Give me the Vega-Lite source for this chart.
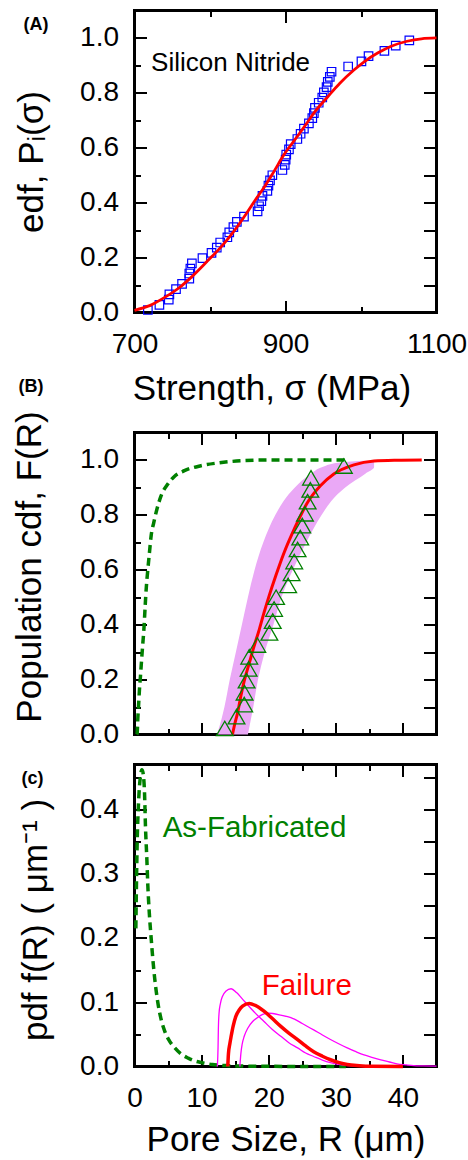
{
"$schema":"https://vega.github.io/schema/vega-lite/v6.json",
"padding":{"left":10.5,"top":7.5,"right":0,"bottom":0},
"config":{
 "view":{"stroke":"black","strokeWidth":3},
 "font":"Liberation Sans",
 "axis":{"grid":false,"domain":false,"labelFont":"Liberation Sans","titleFont":"Liberation Sans","labelFontSize":28,"titleFontSize":35,"titleFontWeight":"normal","labelColor":"black","titleColor":"black","tickColor":"black","tickWidth":2,"labelFlush":false,"labelOverlap":false,"labelBound":false}
},
"datasets":{
 "a_pts":[{"s":717.7,"p":0.009},{"s":733,"p":0.028},{"s":745.4,"p":0.047},{"s":746.2,"p":0.066},{"s":755,"p":0.085},{"s":763,"p":0.104},{"s":772.6,"p":0.123},{"s":772.6,"p":0.142},{"s":774,"p":0.16},{"s":776,"p":0.179},{"s":790,"p":0.198},{"s":802,"p":0.217},{"s":809,"p":0.236},{"s":813.5,"p":0.255},{"s":823,"p":0.274},{"s":825.5,"p":0.292},{"s":831,"p":0.311},{"s":835.6,"p":0.33},{"s":845,"p":0.349},{"s":863,"p":0.368},{"s":865,"p":0.387},{"s":868,"p":0.406},{"s":869.5,"p":0.425},{"s":876,"p":0.443},{"s":877.4,"p":0.462},{"s":879.5,"p":0.481},{"s":882.6,"p":0.5},{"s":895.9,"p":0.519},{"s":899,"p":0.538},{"s":900.2,"p":0.557},{"s":901,"p":0.575},{"s":904.6,"p":0.594},{"s":906.9,"p":0.613},{"s":915.7,"p":0.632},{"s":920,"p":0.651},{"s":924.4,"p":0.67},{"s":931,"p":0.689},{"s":935.5,"p":0.708},{"s":937.6,"p":0.726},{"s":939,"p":0.745},{"s":944,"p":0.764},{"s":948.7,"p":0.783},{"s":950.8,"p":0.802},{"s":954.4,"p":0.821},{"s":956,"p":0.84},{"s":958.7,"p":0.858},{"s":961,"p":0.877},{"s":983,"p":0.896},{"s":1000.6,"p":0.915},{"s":1010,"p":0.934},{"s":1031,"p":0.953},{"s":1046,"p":0.972},{"s":1064,"p":0.991}],
 "a_fit":[{"s":700,"p":0.008},{"s":720,"p":0.025},{"s":740,"p":0.055},{"s":760,"p":0.092},{"s":775,"p":0.128},{"s":795,"p":0.183},{"s":815,"p":0.24},{"s":830,"p":0.29},{"s":848,"p":0.36},{"s":860,"p":0.41},{"s":872,"p":0.457},{"s":885,"p":0.515},{"s":898,"p":0.575},{"s":912,"p":0.628},{"s":925,"p":0.677},{"s":940,"p":0.735},{"s":956,"p":0.786},{"s":972,"p":0.835},{"s":991,"p":0.884},{"s":1005,"p":0.915},{"s":1022,"p":0.945},{"s":1040,"p":0.97},{"s":1061,"p":0.988},{"s":1080,"p":0.997},{"s":1100,"p":1.0}],
 "a_lbl":[{"s":722,"p":0.878,"t":"Silicon Nitride"}],
 "a_tag":[{"s":553,"p":1.028,"t":"(A)"}],
 "b_tag":[{"R":-17.3,"F":1.2457,"t":"(B)"}],
 "c_tag":[{"R":-16.84,"f":0.4389,"t":"(c)"}],
 "b_band":[{"F":0,"lo":12.3,"hi":16.9},{"F":0.05,"lo":12.9,"hi":17.3},{"F":0.1,"lo":13.4,"hi":17.7},{"F":0.2,"lo":14.2,"hi":18.4},{"F":0.3,"lo":15.1,"hi":19.4},{"F":0.4,"lo":16.0,"hi":20.7},{"F":0.5,"lo":16.9,"hi":21.9},{"F":0.6,"lo":17.9,"hi":23.6},{"F":0.7,"lo":19.2,"hi":25.6},{"F":0.8,"lo":21.0,"hi":27.9},{"F":0.85,"lo":22.2,"hi":29.3},{"F":0.9,"lo":23.9,"hi":31.4},{"F":0.95,"lo":26.3,"hi":34.4},{"F":0.973,"lo":27.9,"hi":35.7},{"F":0.99,"lo":30.3,"hi":35.7},{"F":0.997,"lo":34.0,"hi":35.7}],
 "b_fab":[{"R":0.35,"F":0},{"R":0.4,"F":0.006},{"R":0.5,"F":0.061},{"R":0.6,"F":0.103},{"R":0.74,"F":0.164},{"R":0.89,"F":0.213},{"R":1.1,"F":0.286},{"R":1.25,"F":0.335},{"R":1.4,"F":0.383},{"R":1.59,"F":0.468},{"R":1.74,"F":0.529},{"R":1.99,"F":0.602},{"R":2.23,"F":0.663},{"R":2.48,"F":0.724},{"R":2.88,"F":0.773},{"R":3.22,"F":0.809},{"R":3.97,"F":0.87},{"R":4.96,"F":0.912},{"R":5.94,"F":0.94},{"R":7.43,"F":0.961},{"R":9.9,"F":0.979},{"R":12.4,"F":0.989},{"R":15.85,"F":0.997},{"R":19.8,"F":1.0},{"R":31.7,"F":1.0}],
 "b_fail":[{"R":14.6,"F":0},{"R":14.86,"F":0.03},{"R":15.36,"F":0.079},{"R":15.85,"F":0.14},{"R":16.35,"F":0.195},{"R":17.1,"F":0.26},{"R":17.8,"F":0.32},{"R":18.6,"F":0.383},{"R":19.3,"F":0.444},{"R":20.06,"F":0.505},{"R":21.05,"F":0.578},{"R":22.3,"F":0.663},{"R":23.8,"F":0.748},{"R":25.8,"F":0.846},{"R":27.7,"F":0.906},{"R":29.7,"F":0.949},{"R":32.7,"F":0.982},{"R":35.7,"F":0.996},{"R":39,"F":0.999},{"R":42.8,"F":1.0}],
 "b_tri":[{"R":13.45,"F":0.022},{"R":15.2,"F":0.065},{"R":16.35,"F":0.109},{"R":16.4,"F":0.152},{"R":16.7,"F":0.196},{"R":17.0,"F":0.239},{"R":17.1,"F":0.283},{"R":18.3,"F":0.326},{"R":20.1,"F":0.37},{"R":20.6,"F":0.413},{"R":20.8,"F":0.457},{"R":21.1,"F":0.5},{"R":22.9,"F":0.543},{"R":23.4,"F":0.587},{"R":23.8,"F":0.63},{"R":24.3,"F":0.674},{"R":24.7,"F":0.717},{"R":25.0,"F":0.761},{"R":25.4,"F":0.804},{"R":25.8,"F":0.848},{"R":26.2,"F":0.891},{"R":26.3,"F":0.935},{"R":31.2,"F":0.978}],
 "c_fab":[{"R":0.2,"f":0.215},{"R":0.4,"f":0.349},{"R":0.6,"f":0.41},{"R":0.9,"f":0.453},{"R":1.1,"f":0.462},{"R":1.25,"f":0.458},{"R":1.49,"f":0.427},{"R":1.63,"f":0.375},{"R":1.84,"f":0.323},{"R":1.99,"f":0.281},{"R":2.23,"f":0.235},{"R":2.48,"f":0.2},{"R":2.75,"f":0.165},{"R":3.0,"f":0.138},{"R":3.47,"f":0.1},{"R":4.0,"f":0.072},{"R":4.5,"f":0.055},{"R":5.2,"f":0.04},{"R":6.0,"f":0.029},{"R":7.0,"f":0.019},{"R":8.0,"f":0.013},{"R":9.0,"f":0.0085},{"R":10,"f":0.006},{"R":11.6,"f":0.003},{"R":14,"f":0.0013},{"R":18,"f":0.0004},{"R":24,"f":0.0001},{"R":31.5,"f":0}],
 "c_fail":[{"R":13.9,"f":0},{"R":14.0,"f":0.02},{"R":14.2,"f":0.035},{"R":14.4,"f":0.047},{"R":14.7,"f":0.063},{"R":15.1,"f":0.078},{"R":15.6,"f":0.088},{"R":16.1,"f":0.094},{"R":17.1,"f":0.098},{"R":18.0,"f":0.095},{"R":19.3,"f":0.086},{"R":20.5,"f":0.075},{"R":21.8,"f":0.0625},{"R":23,"f":0.052},{"R":24.3,"f":0.042},{"R":25.5,"f":0.032},{"R":26.7,"f":0.023},{"R":28,"f":0.016},{"R":29.2,"f":0.0105},{"R":30.5,"f":0.006},{"R":31.7,"f":0.003},{"R":33.5,"f":0.0012},{"R":35.2,"f":0.0003},{"R":40,"f":0}],
 "c_bounds":[{"k":"lo","R":12.35,"f":0.0},{"k":"lo","R":12.45,"f":0.03},{"k":"lo","R":12.5,"f":0.06},{"k":"lo","R":12.6,"f":0.083},{"k":"lo","R":12.8,"f":0.098},{"k":"lo","R":13.1,"f":0.109},{"k":"lo","R":13.6,"f":0.117},{"k":"lo","R":14.4,"f":0.121},{"k":"lo","R":15.2,"f":0.115},{"k":"lo","R":16.0,"f":0.106},{"k":"lo","R":16.85,"f":0.096},{"k":"lo","R":18,"f":0.083},{"k":"lo","R":19.3,"f":0.07},{"k":"lo","R":20.5,"f":0.058},{"k":"lo","R":21.8,"f":0.047},{"k":"lo","R":23,"f":0.037},{"k":"lo","R":24.3,"f":0.029},{"k":"lo","R":25.5,"f":0.021},{"k":"lo","R":26.7,"f":0.0156},{"k":"lo","R":28,"f":0.01},{"k":"lo","R":29.2,"f":0.006},{"k":"lo","R":31.2,"f":0.002},{"k":"lo","R":33,"f":0.0007},{"k":"lo","R":35,"f":0},
  {"k":"hi","R":15.7,"f":0},{"k":"hi","R":15.85,"f":0.02},{"k":"hi","R":16.05,"f":0.035},{"k":"hi","R":16.35,"f":0.047},{"k":"hi","R":16.9,"f":0.06},{"k":"hi","R":17.6,"f":0.07},{"k":"hi","R":18.3,"f":0.076},{"k":"hi","R":19.1,"f":0.081},{"k":"hi","R":20.0,"f":0.083},{"k":"hi","R":20.6,"f":0.0825},{"k":"hi","R":21.8,"f":0.08},{"k":"hi","R":23.3,"f":0.076},{"k":"hi","R":25,"f":0.067},{"k":"hi","R":26.7,"f":0.057},{"k":"hi","R":28,"f":0.049},{"k":"hi","R":29.2,"f":0.042},{"k":"hi","R":30.5,"f":0.035},{"k":"hi","R":31.7,"f":0.029},{"k":"hi","R":33,"f":0.023},{"k":"hi","R":34.2,"f":0.018},{"k":"hi","R":35.5,"f":0.014},{"k":"hi","R":36.7,"f":0.0105},{"k":"hi","R":38,"f":0.007},{"k":"hi","R":39.1,"f":0.004},{"k":"hi","R":40.5,"f":0.0025},{"k":"hi","R":41.6,"f":0.0015},{"k":"hi","R":43,"f":0.001},{"k":"hi","R":45,"f":0.0006}],
 "c_lbl":[{"R":4.2,"f":0.357,"t":"As-Fabricated","c":"fab"},{"R":18.97,"f":0.112,"t":"Failure","c":"fail"}]
},
"spacing":120,
"bounds":"flush",
"vconcat":[
 {
  "width":302,"height":302,
  "resolve":{"axis":{"x":"independent","y":"independent"}},
  "layer":[
   {"data":{"name":"a_pts"},
    "mark":{"type":"point","shape":"square","size":72,"filled":false,"stroke":"#0000ff","strokeWidth":1.2,"opacity":1},
    "encoding":{
     "x":{"field":"s","type":"quantitative","scale":{"domain":[700,1100],"nice":false,"zero":false},
      "axis":{"orient":"bottom","values":[800,900,1000],"labels":false,"title":null,"tickSize":{"condition":{"test":"datum.value === 900","value":-12},"value":-6}}},
     "y":{"field":"p","type":"quantitative","scale":{"domain":[0,1.1],"nice":false,"zero":false},
      "axis":{"orient":"left","values":[0.1,0.2,0.3,0.4,0.5,0.6,0.7,0.8,0.9,1.0],"labels":false,"title":null,"tickSize":{"condition":{"test":"round(datum.value*10) % 2 === 0","value":-12},"value":-6}}}
    }},
   {"data":{"name":"a_fit"},
    "mark":{"type":"line","color":"#ff0000","strokeWidth":2.8,"interpolate":"monotone"},
    "encoding":{
     "x":{"field":"s","type":"quantitative","scale":{"domain":[700,1100],"nice":false,"zero":false},
      "axis":{"orient":"bottom","values":[700,900,1100],"format":"d","ticks":false,"labelPadding":18,"title":"Strength, σ (MPa)","titlePadding":13,"titleX":137}},
     "y":{"field":"p","type":"quantitative","scale":{"domain":[0,1.1],"nice":false,"zero":false},
      "axis":{"orient":"left","values":[0,0.2,0.4,0.6,0.8,1.0],"format":".1f","ticks":false,"labelPadding":16,"title":"edf, Pᵢ(σ)","titlePadding":30}}
    }},
   {"data":{"name":"a_lbl"},
    "mark":{"type":"text","align":"left","baseline":"alphabetic","fontSize":26,"color":"black","font":"Liberation Sans"},
    "encoding":{
     "x":{"field":"s","type":"quantitative","scale":{"domain":[700,1100],"nice":false,"zero":false},
      "axis":{"orient":"top","values":[800,900,1000],"labels":false,"title":null,"tickSize":{"condition":{"test":"datum.value === 900","value":-12},"value":-6}}},
     "y":{"field":"p","type":"quantitative","scale":{"domain":[0,1.1],"nice":false,"zero":false},
      "axis":{"orient":"right","values":[0.1,0.2,0.3,0.4,0.5,0.6,0.7,0.8,0.9,1.0],"labels":false,"title":null,"tickSize":-13}},
     "text":{"field":"t"}
    }},
   {"data":{"name":"a_tag"},
    "mark":{"type":"text","align":"left","baseline":"alphabetic","fontSize":18,"fontWeight":"bold","color":"black","font":"Liberation Sans"},
    "encoding":{
     "x":{"field":"s","type":"quantitative","scale":{"domain":[700,1100],"nice":false,"zero":false},"axis":null},
     "y":{"field":"p","type":"quantitative","scale":{"domain":[0,1.1],"nice":false,"zero":false},"axis":null},
     "text":{"field":"t"}
    }}
  ]
 },
 {
  "spacing":30,
  "bounds":"flush",
  "vconcat":[
   {
    "width":302,"height":302,
    "resolve":{"axis":{"x":"independent","y":"independent"}},
    "layer":[
     {"data":{"name":"b_band"},
      "mark":{"type":"area","orient":"horizontal","color":"#eaa8f6","opacity":1,"interpolate":"monotone"},
      "encoding":{
       "y":{"field":"F","type":"quantitative","scale":{"domain":[0,1.1],"nice":false,"zero":false},
        "axis":{"orient":"left","values":[0,0.2,0.4,0.6,0.8,1.0],"format":".1f","ticks":false,"labelPadding":16,"title":"Population cdf,  F(R)","titlePadding":32,"titleY":134}},
       "x":{"field":"lo","type":"quantitative","scale":{"domain":[0,45],"nice":false,"zero":false},
        "axis":{"orient":"bottom","values":[5,10,15,20,25,30,35,40],"labels":false,"title":null,"tickSize":{"condition":{"test":"datum.value % 10 === 0","value":-12},"value":-6}}},
       "x2":{"field":"hi"}
      }},
     {"data":{"name":"b_fab"},
      "mark":{"type":"line","color":"#008000","strokeWidth":3.5,"strokeDash":[8,5],"interpolate":"monotone"},
      "encoding":{
       "x":{"field":"R","type":"quantitative","scale":{"domain":[0,45],"nice":false,"zero":false},
        "axis":{"orient":"top","values":[5,10,15,20,25,30,35,40],"labels":false,"title":null,"tickSize":{"condition":{"test":"datum.value % 10 === 0","value":-12},"value":-6}}},
       "y":{"field":"F","type":"quantitative","scale":{"domain":[0,1.1],"nice":false,"zero":false},
        "axis":{"orient":"left","values":[0.1,0.2,0.3,0.4,0.5,0.6,0.7,0.8,0.9,1.0],"labels":false,"title":null,"tickSize":{"condition":{"test":"round(datum.value*10) % 2 === 0","value":-12},"value":-6}}}
      }},
     {"data":{"name":"b_fail"},
      "mark":{"type":"line","color":"#ff0000","strokeWidth":3,"interpolate":"monotone"},
      "encoding":{
       "x":{"field":"R","type":"quantitative","scale":{"domain":[0,45],"nice":false,"zero":false},"axis":null},
       "y":{"field":"F","type":"quantitative","scale":{"domain":[0,1.1],"nice":false,"zero":false},
        "axis":{"orient":"right","values":[0.1,0.2,0.3,0.4,0.5,0.6,0.7,0.8,0.9,1.0],"labels":false,"title":null,"tickSize":-13}}
      }},
     {"data":{"name":"b_tri"},
      "mark":{"type":"point","shape":"triangle-up","size":280,"filled":false,"stroke":"#008000","strokeWidth":1.3,"opacity":1},
      "encoding":{
       "x":{"field":"R","type":"quantitative","scale":{"domain":[0,45],"nice":false,"zero":false},"axis":null},
       "y":{"field":"F","type":"quantitative","scale":{"domain":[0,1.1],"nice":false,"zero":false},"axis":null}
      }},
     {"data":{"name":"b_tag"},
      "mark":{"type":"text","align":"left","baseline":"alphabetic","fontSize":18,"fontWeight":"bold","color":"black","font":"Liberation Sans"},
      "encoding":{
       "x":{"field":"R","type":"quantitative","scale":{"domain":[0,45],"nice":false,"zero":false},"axis":null},
       "y":{"field":"F","type":"quantitative","scale":{"domain":[0,1.1],"nice":false,"zero":false},"axis":null},
       "text":{"field":"t"}
      }}
    ]
   },
   {
    "width":302,"height":302,
    "resolve":{"axis":{"x":"independent","y":"independent"}},
    "layer":[
     {"data":{"name":"c_fab"},
      "mark":{"type":"line","color":"#008000","strokeWidth":3.5,"strokeDash":[8,5],"interpolate":"monotone"},
      "encoding":{
       "x":{"field":"R","type":"quantitative","scale":{"domain":[0,45],"nice":false,"zero":false},
        "axis":{"orient":"bottom","values":[0,10,20,30,40],"ticks":false,"labelPadding":18,"title":"Pore Size,  R (μm)","titlePadding":10}},
       "y":{"field":"f","type":"quantitative","scale":{"domain":[0,0.47],"nice":false,"zero":false},
        "axis":{"orient":"left","values":[0,0.1,0.2,0.3,0.4],"format":".1f","ticks":false,"labelPadding":16,"title":"pdf  f(R)  ( μm⁻¹ )","titlePadding":26,"titleY":155}}
      }},
     {"data":{"name":"c_bounds"},
      "mark":{"type":"line","color":"#ff00ff","strokeWidth":1.3,"interpolate":"monotone"},
      "encoding":{
       "detail":{"field":"k"},
       "x":{"field":"R","type":"quantitative","scale":{"domain":[0,45],"nice":false,"zero":false},
        "axis":{"orient":"bottom","values":[5,10,15,20,25,30,35,40],"labels":false,"title":null,"tickSize":{"condition":{"test":"datum.value % 10 === 0","value":-12},"value":-6}}},
       "y":{"field":"f","type":"quantitative","scale":{"domain":[0,0.47],"nice":false,"zero":false},
        "axis":{"orient":"left","values":[0.05,0.1,0.15,0.2,0.25,0.3,0.35,0.4,0.45],"labels":false,"title":null,"tickSize":{"condition":{"test":"round(datum.value*100) % 10 === 0","value":-12},"value":-6}}}
      }},
     {"data":{"name":"c_fail"},
      "mark":{"type":"line","color":"#ff0000","strokeWidth":3.5,"interpolate":"monotone"},
      "encoding":{
       "x":{"field":"R","type":"quantitative","scale":{"domain":[0,45],"nice":false,"zero":false},
        "axis":{"orient":"top","values":[5,10,15,20,25,30,35,40],"labels":false,"title":null,"tickSize":{"condition":{"test":"datum.value % 10 === 0","value":-12},"value":-6}}},
       "y":{"field":"f","type":"quantitative","scale":{"domain":[0,0.47],"nice":false,"zero":false},
        "axis":{"orient":"right","values":[0.05,0.1,0.15,0.2,0.25,0.3,0.35,0.4,0.45],"labels":false,"title":null,"tickSize":-13}}
      }},
     {"data":{"name":"c_lbl"},
      "mark":{"type":"text","align":"left","baseline":"alphabetic","fontSize":29.5,"font":"Liberation Sans"},
      "encoding":{
       "x":{"field":"R","type":"quantitative","scale":{"domain":[0,45],"nice":false,"zero":false},"axis":null},
       "y":{"field":"f","type":"quantitative","scale":{"domain":[0,0.47],"nice":false,"zero":false},"axis":null},
       "text":{"field":"t"},
       "color":{"field":"c","type":"nominal","scale":{"domain":["fab","fail"],"range":["#008000","#ff0000"]},"legend":null}
      }},
     {"data":{"name":"c_tag"},
      "mark":{"type":"text","align":"left","baseline":"alphabetic","fontSize":18,"fontWeight":"bold","color":"black","font":"Liberation Sans"},
      "encoding":{
       "x":{"field":"R","type":"quantitative","scale":{"domain":[0,45],"nice":false,"zero":false},"axis":null},
       "y":{"field":"f","type":"quantitative","scale":{"domain":[0,0.47],"nice":false,"zero":false},"axis":null},
       "text":{"field":"t"}
      }}
    ]
   }
  ]
 }
]
}
